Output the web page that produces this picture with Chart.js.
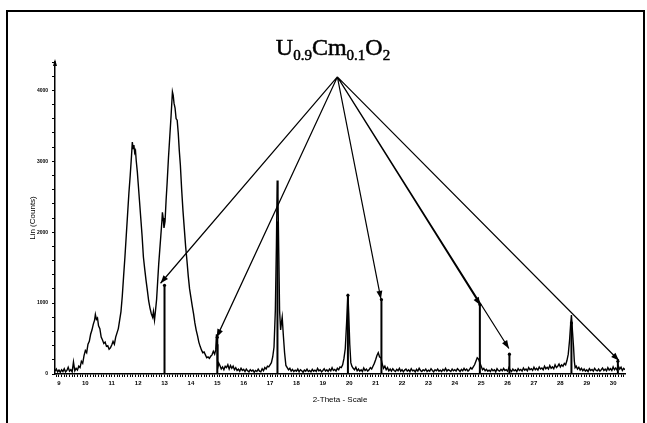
<!DOCTYPE html>
<html>
<head>
<meta charset="utf-8">
<script src="https://cdn.jsdelivr.net/npm/chart.js@4/dist/chart.umd.min.js"></script>
<style>
  html, body { margin: 0; padding: 0; background: #fff; }
  canvas { display: block; }
</style>
</head>
<body>
<canvas id="xrd" width="647" height="423"></canvas>
<script>
// measured pattern: [2-theta, counts]
const pattern = [
  [8.85,40],[8.9,70],[8.95,30],[9.0,55],[9.05,25],[9.1,60],[9.15,35],[9.2,75],[9.25,30],[9.3,50],
  [9.35,95],[9.4,40],[9.45,60],[9.5,30],[9.55,170],[9.6,45],[9.65,80],[9.7,55],[9.75,110],[9.8,90],
  [9.85,180],[9.9,150],[9.95,260],[10.0,330],[10.05,300],[10.1,420],[10.15,460],[10.2,560],[10.25,620],[10.3,700],
  [10.35,760],[10.38,840],[10.42,770],[10.46,790],[10.5,680],[10.55,640],[10.6,520],[10.65,480],[10.7,430],[10.75,450],
  [10.8,390],[10.85,400],[10.9,350],[10.95,370],[11.0,410],[11.05,460],[11.1,420],[11.15,520],[11.2,580],[11.25,640],
  [11.3,760],[11.35,880],[11.4,1100],[11.45,1380],[11.5,1650],[11.55,1950],[11.6,2250],[11.65,2550],[11.7,2800],[11.75,3080],
  [11.78,3270],[11.81,3180],[11.84,3230],[11.87,3120],[11.9,3150],[11.93,3000],[11.97,2850],[12.0,2700],[12.05,2450],[12.1,2200],
  [12.15,1950],[12.2,1650],[12.25,1480],[12.3,1320],[12.35,1180],[12.4,1030],[12.45,930],[12.5,850],[12.55,800],[12.58,880],
  [12.62,760],[12.66,900],[12.7,1050],[12.74,1300],[12.78,1550],[12.82,1750],[12.86,1950],[12.9,2150],[12.92,2280],[12.95,2200],
  [12.98,2060],[13.02,2150],[13.06,2450],[13.1,2700],[13.15,3050],[13.2,3350],[13.25,3650],[13.3,3980],[13.33,3930],[13.36,3820],
  [13.4,3750],[13.44,3600],[13.48,3580],[13.52,3400],[13.56,3150],[13.6,2950],[13.65,2600],[13.7,2300],[13.75,2050],[13.8,1800],
  [13.85,1600],[13.9,1380],[13.95,1200],[14.0,1080],[14.05,960],[14.1,850],[14.15,720],[14.2,620],[14.25,540],[14.3,450],
  [14.35,390],[14.4,340],[14.45,300],[14.5,310],[14.55,270],[14.6,230],[14.65,240],[14.7,220],[14.75,250],[14.8,270],
  [14.85,320],[14.9,280],[14.94,340],[14.97,560],[15.0,420],[15.02,90],[15.06,150],[15.1,120],[15.15,70],[15.2,100],
  [15.25,60],[15.3,110],[15.35,90],[15.4,130],[15.45,70],[15.5,120],[15.55,80],[15.6,110],[15.65,60],[15.7,90],
  [15.75,50],[15.8,70],[15.85,40],[15.9,80],[15.95,50],[16.0,65],[16.05,35],[16.1,70],[16.15,45],[16.2,30],
  [16.25,60],[16.3,40],[16.35,55],[16.4,25],[16.45,50],[16.5,35],[16.55,70],[16.6,40],[16.65,30],[16.7,75],
  [16.75,45],[16.8,90],[16.85,70],[16.9,110],[16.95,100],[17.0,130],[17.05,160],[17.1,240],[17.15,380],[17.2,900],
  [17.24,1800],[17.27,2730],[17.3,2500],[17.33,1700],[17.36,900],[17.4,620],[17.43,720],[17.46,800],[17.5,560],[17.55,300],
  [17.6,120],[17.65,90],[17.7,60],[17.75,80],[17.8,40],[17.85,65],[17.9,35],[17.95,55],[18.0,40],[18.05,70],
  [18.1,30],[18.15,60],[18.2,45],[18.25,25],[18.3,55],[18.35,40],[18.4,70],[18.45,35],[18.5,50],[18.55,30],
  [18.6,65],[18.65,40],[18.7,55],[18.75,35],[18.8,80],[18.85,45],[18.9,60],[18.95,30],[19.0,50],[19.05,75],
  [19.1,40],[19.15,60],[19.2,35],[19.25,70],[19.3,45],[19.35,90],[19.4,50],[19.45,65],[19.5,40],[19.55,80],
  [19.6,60],[19.65,100],[19.7,90],[19.75,130],[19.8,220],[19.85,360],[19.9,720],[19.95,1130],[19.98,860],[20.02,420],
  [20.06,160],[20.1,110],[20.15,80],[20.2,60],[20.25,95],[20.3,45],[20.35,70],[20.4,40],[20.45,60],[20.5,35],
  [20.55,85],[20.6,50],[20.65,70],[20.7,40],[20.75,60],[20.8,90],[20.85,70],[20.9,110],[20.95,150],[21.0,200],
  [21.05,260],[21.1,300],[21.15,240],[21.2,230],[21.25,140],[21.3,80],[21.35,110],[21.4,60],[21.45,90],[21.5,45],
  [21.55,70],[21.6,40],[21.65,75],[21.7,50],[21.75,35],[21.8,65],[21.85,45],[21.9,80],[21.95,40],[22.0,60],
  [22.05,30],[22.1,55],[22.15,70],[22.2,40],[22.25,60],[22.3,35],[22.35,75],[22.4,45],[22.45,55],[22.5,30],
  [22.55,65],[22.6,40],[22.65,80],[22.7,50],[22.75,35],[22.8,60],[22.85,45],[22.9,70],[22.95,35],[23.0,55],
  [23.05,40],[23.1,75],[23.15,50],[23.2,30],[23.25,60],[23.3,45],[23.35,70],[23.4,40],[23.45,55],[23.5,35],
  [23.55,65],[23.6,45],[23.65,80],[23.7,40],[23.75,60],[23.8,50],[23.85,35],[23.9,70],[23.95,45],[24.0,60],
  [24.05,40],[24.1,75],[24.15,55],[24.2,35],[24.25,65],[24.3,45],[24.35,80],[24.4,50],[24.45,70],[24.5,40],
  [24.55,60],[24.6,90],[24.65,70],[24.7,100],[24.75,130],[24.8,180],[24.85,230],[24.9,210],[24.95,160],[25.0,110],
  [25.05,60],[25.1,80],[25.15,45],[25.2,65],[25.25,40],[25.3,55],[25.35,35],[25.4,70],[25.45,45],[25.5,60],
  [25.55,30],[25.6,75],[25.65,50],[25.7,40],[25.75,65],[25.8,45],[25.85,80],[25.9,50],[25.95,60],[26.0,40],
  [26.05,90],[26.1,55],[26.15,35],[26.2,70],[26.25,45],[26.3,60],[26.35,35],[26.4,75],[26.45,50],[26.5,65],
  [26.55,40],[26.6,85],[26.65,55],[26.7,70],[26.75,45],[26.8,90],[26.85,60],[26.9,75],[26.95,50],[27.0,95],
  [27.05,60],[27.1,80],[27.15,55],[27.2,100],[27.25,70],[27.3,85],[27.35,60],[27.4,110],[27.45,75],[27.5,95],
  [27.55,70],[27.6,120],[27.65,80],[27.7,100],[27.75,75],[27.8,130],[27.85,90],[27.9,110],[27.95,140],[28.0,100],
  [28.05,130],[28.1,110],[28.15,150],[28.2,130],[28.25,190],[28.3,280],[28.35,480],[28.39,700],[28.42,830],[28.46,600],
  [28.5,380],[28.53,180],[28.56,90],[28.6,110],[28.65,70],[28.7,95],[28.75,55],[28.8,80],[28.85,45],[28.9,70],
  [28.95,40],[29.0,60],[29.05,35],[29.1,75],[29.15,50],[29.2,65],[29.25,40],[29.3,80],[29.35,55],[29.4,45],
  [29.45,70],[29.5,40],[29.55,60],[29.6,85],[29.65,50],[29.7,70],[29.75,45],[29.8,90],[29.85,55],[29.9,75],
  [29.95,50],[30.0,100],[30.05,60],[30.1,85],[30.15,55],[30.2,110],[30.25,70],[30.3,95],[30.35,50],[30.4,80],
  [30.45,60]
];

// reference lines (stick pattern) for the phase
const stickPos = [13.0, 15.0, 17.28, 19.95, 21.22, 24.95, 26.07, 28.42, 30.18];
const stickHeight = [1250, 520, 2130, 1110, 1050, 980, 280, 720, 180];

// arrows from label to the indexed lines
const arrowFrom = [19.55, 4190];
const arrowToX = [12.85, 14.98, 21.2, 24.97, 26.05, 30.22];
const arrowToY = [1280, 520, 1060, 970, 360, 190];

const titleParts = [["U", false], ["0.9", true], ["Cm", false], ["0.1", true], ["O", false], ["2", true]];
const xTitle = "2-Theta - Scale";
const yTitle = "Lin (Counts)";

const sticks = [];
stickPos.forEach((x, i) => {
  sticks.push({ x: x, y: 0 }, { x: x, y: stickHeight[i] }, { x: x, y: null });
});
const arrows = [];
arrowToX.forEach((x, i) => {
  arrows.push({ x: arrowFrom[0], y: arrowFrom[1] }, { x: x, y: arrowToY[i] }, { x: x, y: null });
});

const decor = {
  id: "decor",
  beforeDraw(chart) {
    const c = chart.ctx;
    c.save();
    c.fillStyle = "#fff";
    c.fillRect(0, 0, chart.width, chart.height);
    c.strokeStyle = "#000";
    c.lineWidth = 2;
    c.strokeRect(7, 11, 637, 440);
    c.restore();
  },
  afterDraw(chart) {
    const c = chart.ctx;
    const xs = chart.scales.x, ys = chart.scales.y;
    c.save();
    c.fillStyle = "#000";
    c.strokeStyle = "#000";
    // arrow heads
    arrowToX.forEach((x, i) => {
      const x1 = xs.getPixelForValue(arrowFrom[0]), y1 = ys.getPixelForValue(arrowFrom[1]);
      const x2 = xs.getPixelForValue(x), y2 = ys.getPixelForValue(arrowToY[i]);
      const a = Math.atan2(y2 - y1, x2 - x1);
      c.beginPath();
      c.moveTo(x2, y2);
      c.lineTo(x2 - 8 * Math.cos(a) + 3 * Math.sin(a), y2 - 8 * Math.sin(a) - 3 * Math.cos(a));
      c.lineTo(x2 - 8 * Math.cos(a) - 3 * Math.sin(a), y2 - 8 * Math.sin(a) + 3 * Math.cos(a));
      c.closePath();
      c.fill();
    });
    // arrow on top of y axis
    const ax = chart.chartArea.left, ay = chart.chartArea.top;
    c.beginPath();
    c.moveTo(ax, ay - 3);
    c.lineTo(ax - 2, ay + 4);
    c.lineTo(ax + 2, ay + 4);
    c.closePath();
    c.fill();
    // title with subscripts
    const big = "24px 'Liberation Serif'", small = "15px 'Liberation Serif'";
    let w = 0;
    titleParts.forEach(([t, sub]) => {
      c.font = sub ? small : big;
      w += c.measureText(t).width;
    });
    let tx = 333 - w / 2;
    c.textBaseline = "alphabetic";
    c.lineWidth = 0.5;
    titleParts.forEach(([t, sub]) => {
      c.font = sub ? small : big;
      const ty = sub ? 60 : 55;
      c.fillText(t, tx, ty);
      c.strokeText(t, tx, ty);
      tx += c.measureText(t).width;
    });
    c.restore();
  }
};

new Chart(document.getElementById("xrd"), {
  type: "line",
  data: {
    datasets: [
      {
        data: pattern.map(p => ({ x: p[0], y: p[1] })),
        borderColor: "#000",
        borderWidth: 1.4,
        pointRadius: 0,
        tension: 0
      },
      {
        data: sticks,
        borderColor: "#000",
        borderWidth: 2,
        spanGaps: false,
        pointRadius: ctx => (ctx.raw && ctx.raw.y > 0 ? 1.6 : 0),
        pointBackgroundColor: "#000",
        pointBorderWidth: 0
      },
      {
        data: arrows,
        borderColor: "#000",
        borderWidth: 1.2,
        spanGaps: false,
        pointRadius: 0
      }
    ]
  },
  options: {
    responsive: false,
    animation: false,
    devicePixelRatio: 1,
    layout: { padding: { left: 24, top: 62, right: 22, bottom: 14 } },
    plugins: { legend: { display: false }, tooltip: { enabled: false } },
    scales: {
      x: {
        type: "linear",
        min: 8.85,
        max: 30.45,
        afterFit: s => { s.height = 35; },
        afterBuildTicks: s => {
          const t = [];
          for (let i = 89; i <= 304; i++) t.push({ value: i / 10 });
          s.ticks = t;
        },
        border: { display: true, color: "#000", width: 1.5 },
        grid: { drawOnChartArea: false, drawTicks: true, tickLength: 3, color: "#000", lineWidth: 1 },
        ticks: {
          autoSkip: false,
          maxRotation: 0,
          padding: 3,
          color: "#000",
          font: { family: "Liberation Sans", size: 6, weight: "bold" },
          callback: v => (Math.abs(v - Math.round(v)) < 1e-6 ? String(Math.round(v)) : "")
        },
        title: {
          display: true,
          text: xTitle,
          color: "#000",
          font: { family: "Liberation Sans", size: 8 },
          padding: { top: 4, bottom: 4 }
        }
      },
      y: {
        min: 0,
        max: 4400,
        afterFit: s => { s.width = 31; },
        afterBuildTicks: s => {
          const t = [];
          for (let v = 0; v <= 4400; v += 200) t.push({ value: v });
          s.ticks = t;
        },
        border: { display: true, color: "#000", width: 1.5 },
        grid: { drawOnChartArea: false, drawTicks: true, tickLength: 3, color: "#000", lineWidth: 1 },
        ticks: {
          autoSkip: false,
          padding: 4,
          color: "#000",
          font: { family: "Liberation Sans", size: 5, weight: "bold" },
          callback: v => (v % 1000 === 0 ? String(v) : "")
        },
        title: {
          display: true,
          text: yTitle,
          color: "#000",
          font: { family: "Liberation Sans", size: 8 },
          padding: { top: 4, bottom: 4 }
        }
      }
    }
  },
  plugins: [decor]
});
</script>
</body>
</html>
